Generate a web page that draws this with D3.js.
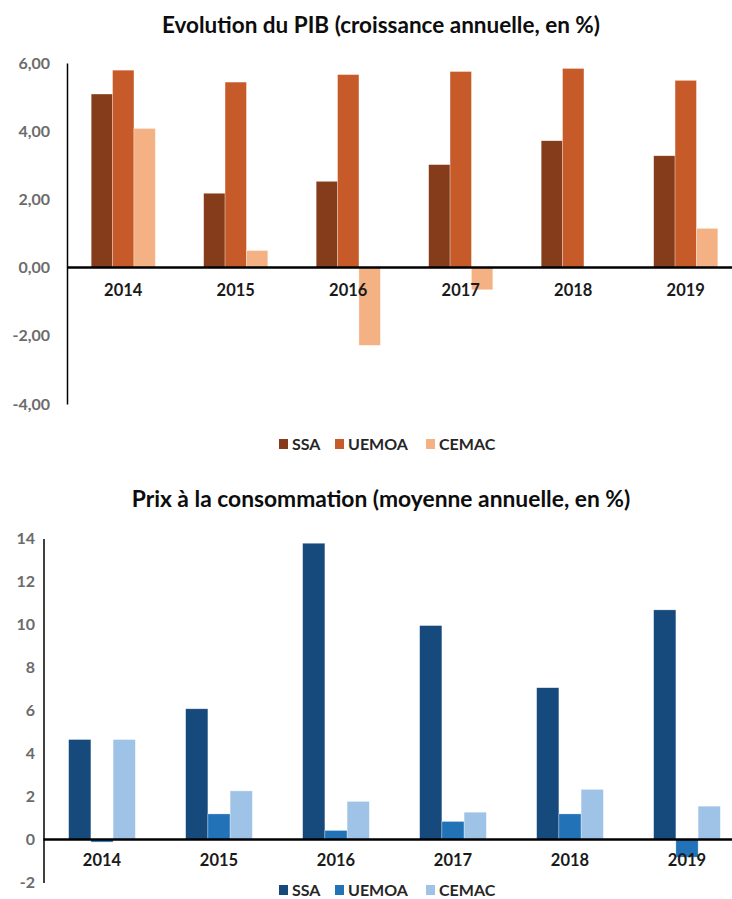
<!DOCTYPE html>
<html>
<head>
<meta charset="utf-8">
<script src="https://d3js.org/d3.v7.min.js"></script>
<style>
    body { margin: 0; background: #ffffff; }
    svg { display: block; }
    text { font-family: Lato, "Open Sans", sans-serif; }
</style>
</head>
<body>
<script>
// data for both charts
var years = ["2014", "2015", "2016", "2017", "2018", "2019"];
var regions = ["SSA", "UEMOA", "CEMAC"];

// growth of GDP (annual, %)
var pibSSA = [5.09, 2.18, 2.53, 3.02, 3.72, 3.28];
var pibUEMOA = [5.79, 5.44, 5.66, 5.75, 5.84, 5.49];
var pibCEMAC = [4.08, 0.50, -2.28, -0.65, 0, 1.15];
var pibTicks = [-4, -2, 0, 2, 4, 6];

// consumer prices (annual average, %)
var prixSSA = [4.65, 6.08, 13.78, 9.95, 7.06, 10.68];
var prixUEMOA = [-0.12, 1.19, 0.42, 0.84, 1.19, -0.82];
var prixCEMAC = [4.65, 2.26, 1.77, 1.27, 2.33, 1.55];
var prixTicks = [-2, 0, 2, 4, 6, 8, 10, 12, 14];

// canvas size
var canvasX = 732;
var canvasY = 899;

var svg = d3.select("body")
            .append("svg")
            .attr("width", canvasX)
            .attr("height", canvasY);

// first chart
drawChart({
    title: "Evolution du PIB (croissance annuelle, en %)",
    titleX: 381,
    titleY: 33,
    titleSize: 22.5,
    series: [pibSSA, pibUEMOA, pibCEMAC],
    colors: ["#843c1a", "#c65a28", "#f4b183"],
    ticks: pibTicks,
    format: function(d) { return d.toFixed(2).replace(".", ","); },
    domain: [-4, 6],
    left: 67,
    right: 742,
    top: 63,
    bottom: 404,
    labelX: 50,
    yearY: 296,
    legendY: 444
});

// second chart
drawChart({
    title: "Prix à la consommation (moyenne annuelle, en %)",
    titleX: 381,
    titleY: 507,
    titleSize: 22.8,
    series: [prixSSA, prixUEMOA, prixCEMAC],
    colors: ["#174a7c", "#2272b8", "#9fc3e6"],
    ticks: prixTicks,
    format: function(d) { return String(d); },
    domain: [-2, 14],
    left: 43.5,
    right: 745.5,
    top: 538.5,
    bottom: 882.5,
    labelX: 35,
    yearY: 866,
    legendY: 890
});

// function to draw one clustered bar chart
function drawChart(c) {

    var g = svg.append("g");

    // scales for the groups, the bars within a group and the values
    var x0 = d3.scaleBand()
               .domain(years)
               .range([c.left, c.right])
               .paddingInner(0.43)
               .paddingOuter(0.215);

    var x1 = d3.scaleBand()
               .domain(regions)
               .range([0, x0.bandwidth()]);

    var y = d3.scaleLinear()
              .domain(c.domain)
              .range([c.bottom, c.top]);

    // title
    g.append("text")
     .attr("x", c.titleX)
     .attr("y", c.titleY)
     .attr("text-anchor", "middle")
     .style("font-size", c.titleSize + "px")
     .style("font-weight", "bold")
     .style("fill", "#0d0d0d")
     .text(c.title);

    // bars
    c.series.forEach(function(values, s) {
        g.selectAll(".bar" + s)
         .data(values)
         .enter()
         .append("rect")
         .attr("x", function(d, i) { return x0(years[i]) + x1(regions[s]); })
         .attr("y", function(d) { return y(Math.max(0, d)); })
         .attr("width", x1.bandwidth())
         .attr("height", function(d) { return Math.abs(y(d) - y(0)); })
         .attr("fill", c.colors[s])
         .attr("stroke", "#ffffff")
         .attr("stroke-opacity", 0.5)
         .attr("stroke-width", 0.6);
    });

    // y axis without ticks
    var yAxis = d3.axisLeft(y)
                  .tickValues(c.ticks)
                  .tickSize(0)
                  .tickFormat(c.format);

    var ay = g.append("g")
              .attr("transform", "translate(" + c.left + ",0)")
              .call(yAxis);

    ay.select(".domain")
      .attr("stroke", "#000000")
      .attr("stroke-width", 1.5);

    ay.selectAll("text")
      .attr("x", c.labelX - c.left)
      .style("font-size", "16px")
      .style("font-weight", "bold")
      .style("fill", "#6b6b6b");

    // x axis line at zero
    g.append("line")
     .attr("x1", c.left)
     .attr("x2", canvasX)
     .attr("y1", y(0))
     .attr("y2", y(0))
     .attr("stroke", "#000000")
     .attr("stroke-width", 2.5);

    // year labels
    g.selectAll(".year")
     .data(years)
     .enter()
     .append("text")
     .attr("x", function(d) { return x0(d) + x0.bandwidth() / 2; })
     .attr("y", c.yearY)
     .attr("text-anchor", "middle")
     .style("font-size", "16.5px")
     .style("font-weight", "bold")
     .style("fill", "#1a1a1a")
     .text(function(d) { return d; });

    // legend
    var legendX = [279, 335, 426];
    var legend = g.selectAll(".legend")
                  .data(regions)
                  .enter()
                  .append("g")
                  .attr("transform", function(d, i) {
                      return "translate(" + legendX[i] + "," + c.legendY + ")";
                  });

    legend.append("rect")
          .attr("x", 0)
          .attr("y", -5)
          .attr("width", 9)
          .attr("height", 10)
          .attr("fill", function(d, i) { return c.colors[i]; });

    legend.append("text")
          .attr("x", 13)
          .attr("y", 5.5)
          .style("font-size", "16px")
          .style("font-weight", "bold")
          .style("fill", "#262626")
          .text(function(d) { return d; });
}
</script>
</body>
</html>
